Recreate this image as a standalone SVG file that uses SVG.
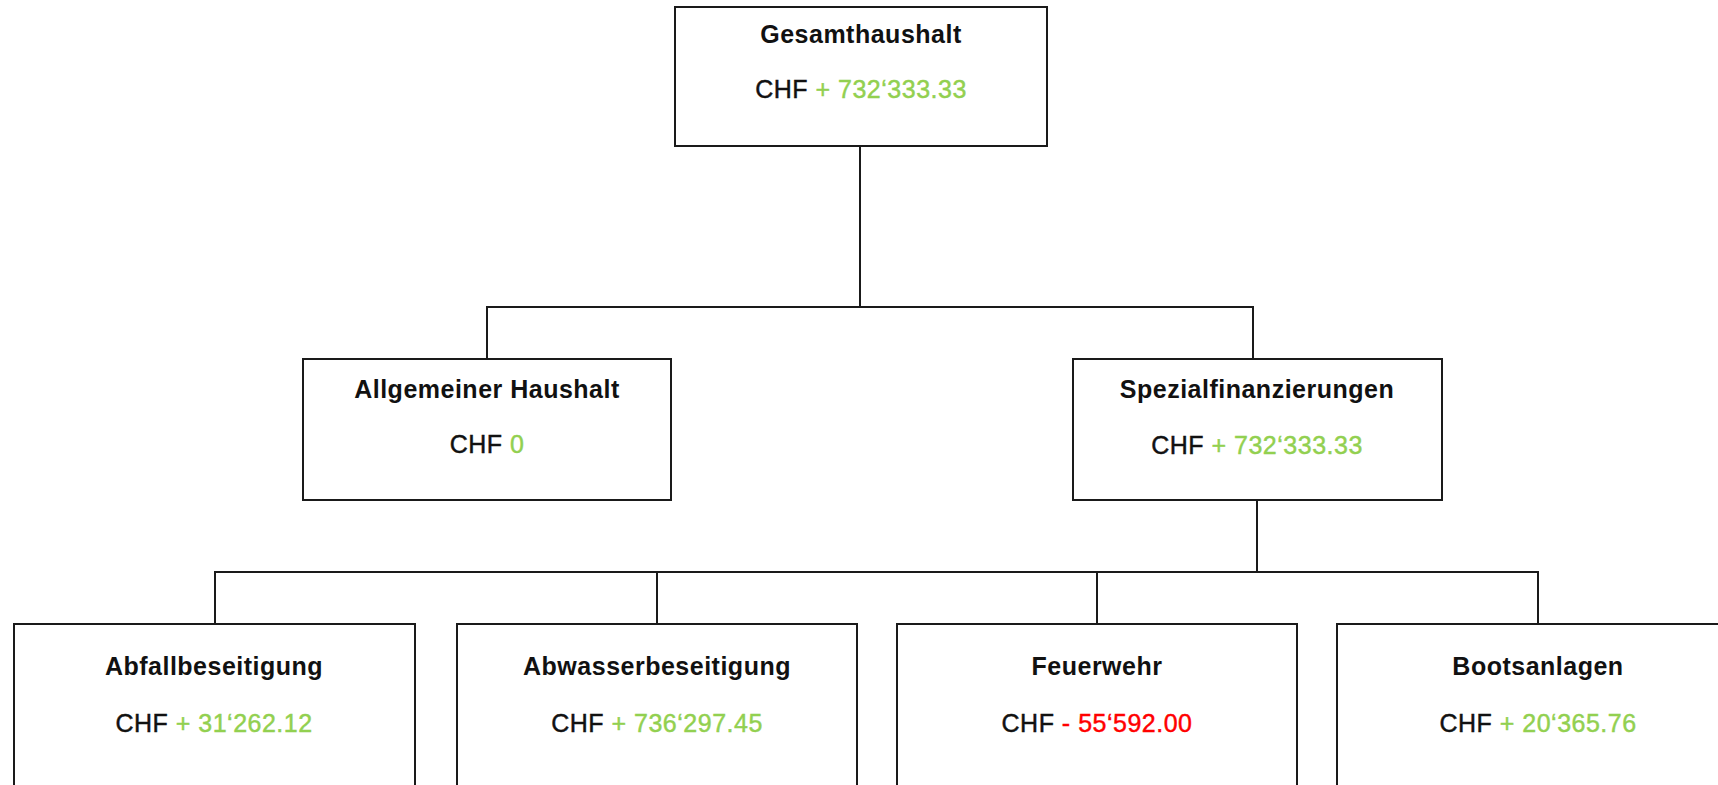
<svg xmlns="http://www.w3.org/2000/svg" width="1718" height="785" viewBox="0 0 1718 785">
<style>
.box{fill:#fff;stroke:#1a1a1a;stroke-width:2}
.conn{fill:none;stroke:#1a1a1a;stroke-width:2}
.t{font-family:"Liberation Sans",Arial,sans-serif;font-size:25px;font-weight:bold;fill:#111;text-anchor:middle;letter-spacing:0.5px}
.v{font-family:"Liberation Sans",Arial,sans-serif;font-size:25px;fill:#111;stroke:#111;stroke-width:0.45;text-anchor:middle;letter-spacing:0.5px}
.g{fill:#92D050;stroke:#92D050}
.r{fill:#FF0000;stroke:#FF0000}
</style>
<rect width="1718" height="785" fill="#fff"/>
<g id="connectors">
<path class="conn" d="M860 146 V307 M487 359 V307 H1253 V359"/>
<path class="conn" d="M1257 500 V572 M215 624 V572 H1538 V624 M657 572 V624 M1097 572 V624"/>
</g>
<g id="gesamthaushalt">
<rect class="box" x="675" y="7" width="372" height="139"/>
<text class="t" x="861" y="43">Gesamthaushalt</text>
<text class="v" x="861" y="98">CHF <tspan class="g">+ 732‘333.33</tspan></text>
</g>
<g id="allgemeiner">
<rect class="box" x="303" y="359" width="368" height="141"/>
<text class="t" x="487" y="398">Allgemeiner Haushalt</text>
<text class="v" x="487" y="453">CHF <tspan class="g">0</tspan></text>
</g>
<g id="spezial">
<rect class="box" x="1073" y="359" width="369" height="141"/>
<text class="t" x="1257" y="398">Spezialfinanzierungen</text>
<text class="v" x="1257" y="454">CHF <tspan class="g">+ 732‘333.33</tspan></text>
</g>
<g id="abfall">
<rect class="box" x="14" y="624" width="401" height="200"/>
<text class="t" x="214" y="675">Abfallbeseitigung</text>
<text class="v" x="214" y="732">CHF <tspan class="g">+ 31‘262.12</tspan></text>
</g>
<g id="abwasser">
<rect class="box" x="457" y="624" width="400" height="200"/>
<text class="t" x="657" y="675">Abwasserbeseitigung</text>
<text class="v" x="657" y="732">CHF <tspan class="g">+ 736‘297.45</tspan></text>
</g>
<g id="feuerwehr">
<rect class="box" x="897" y="624" width="400" height="200"/>
<text class="t" x="1097" y="675">Feuerwehr</text>
<text class="v" x="1097" y="732">CHF <tspan class="r">- 55‘592.00</tspan></text>
</g>
<g id="bootsanlagen">
<rect class="box" x="1337" y="624" width="400" height="200"/>
<text class="t" x="1538" y="675">Bootsanlagen</text>
<text class="v" x="1538" y="732">CHF <tspan class="g">+ 20‘365.76</tspan></text>
</g>
</svg>
